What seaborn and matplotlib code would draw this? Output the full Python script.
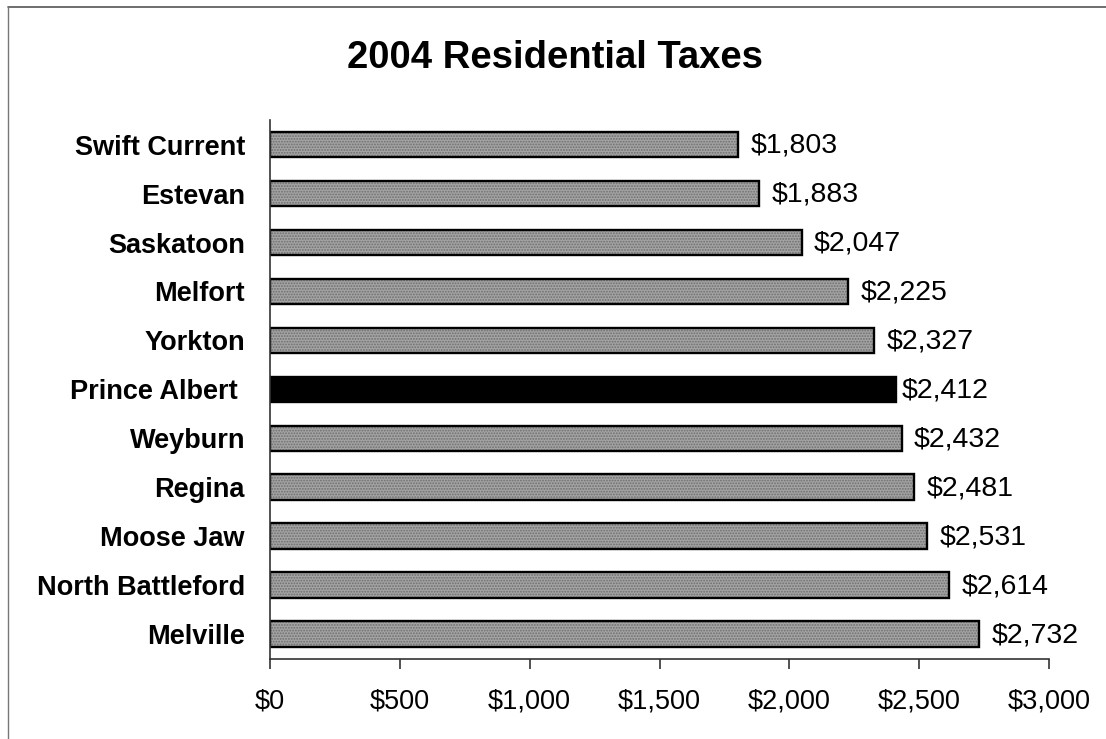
import matplotlib
matplotlib.use("Agg")
import matplotlib.pyplot as plt
from matplotlib.lines import Line2D
from matplotlib.ticker import FuncFormatter
import seaborn as sns
import pandas as pd

cities = ["Swift Current", "Estevan", "Saskatoon", "Melfort", "Yorkton",
          "Prince Albert ", "Weyburn", "Regina", "Moose Jaw",
          "North Battleford", "Melville"]
taxes = [1803, 1883, 2047, 2225, 2327, 2412, 2432, 2481, 2531, 2614, 2732]
highlight = "Prince Albert "
xticks = [0, 500, 1000, 1500, 2000, 2500, 3000]

sns.set_theme(style="white")
plt.rcParams["font.family"] = ["Liberation Sans", "DejaVu Sans"]
plt.rcParams["hatch.linewidth"] = 0.9
plt.rcParams["text.color"] = "black"
plt.rcParams["xtick.color"] = "black"
plt.rcParams["ytick.color"] = "black"
plt.rcParams["axes.labelcolor"] = "black"

df = pd.DataFrame({"city": cities, "tax": taxes})

fig = plt.figure(figsize=(11.06, 7.39), dpi=100)
ax = fig.add_axes([0.2441, 0.1083, 0.7044, 0.7293])

fill_colors = {c: ("#000000" if c == highlight else "#a4a4a4") for c in cities}
hatch_colors = {c: ("#000000" if c == highlight else "#6e6e6e") for c in cities}

# speckled fill layer
sns.barplot(data=df, x="tax", y="city", hue="city", order=cities,
            hue_order=cities, palette=fill_colors, legend=False,
            orient="h", width=0.53, linewidth=0, ax=ax)
for patch, c in zip(ax.patches, cities):
    patch.set_hatch("" if c == highlight else "......")
    patch.set_edgecolor(hatch_colors[c])
    patch.set_linewidth(0)

# outline layer
sns.barplot(data=df, x="tax", y="city", order=cities, fill=False,
            orient="h", width=0.53, edgecolor="black", linewidth=1.7,
            errorbar=None, ax=ax)

for i, (c, v) in enumerate(zip(cities, taxes)):
    pad = 4 if c == highlight else 9
    ax.annotate(f"${v:,}", xy=(v, i), xytext=(pad, -1),
                textcoords="offset points", va="center", ha="left",
                fontsize=20.5, color="black")

ax.set_xlim(0, 3000)
ax.set_ylim(len(cities) - 0.5, -0.5)
ax.set_xticks(xticks)
ax.xaxis.set_major_formatter(FuncFormatter(lambda v, p: f"${int(v):,}"))
ax.tick_params(axis="x", bottom=True, length=7, width=1.2, color="#333333",
               direction="out", labelsize=19.5, pad=14, labelcolor="black")
ax.tick_params(axis="y", left=False, length=0, labelsize=19.5, pad=18,
               labelcolor="black")
for lab in ax.get_yticklabels():
    lab.set_fontweight("bold")
ax.set_xlabel("")
ax.set_ylabel("")
for side in ["top", "right"]:
    ax.spines[side].set_visible(False)
for side in ["left", "bottom"]:
    ax.spines[side].set_visible(True)
    ax.spines[side].set_color("#333333")
    ax.spines[side].set_linewidth(1.2)

fig.text(0.502, 0.921, "2004 Residential Taxes", ha="center", va="center",
         fontsize=27.5, fontweight="bold", color="black")

# outer frame lines along the top and left edges
fig.add_artist(Line2D([0.0072, 1.0], [0.9905, 0.9905], color="#555555",
                      linewidth=1.2, transform=fig.transFigure))
fig.add_artist(Line2D([0.0072, 0.0072], [0.0, 0.9905], color="#777777",
                      linewidth=1.0, transform=fig.transFigure))

fig.savefig("out.png", dpi=100, facecolor="white")
